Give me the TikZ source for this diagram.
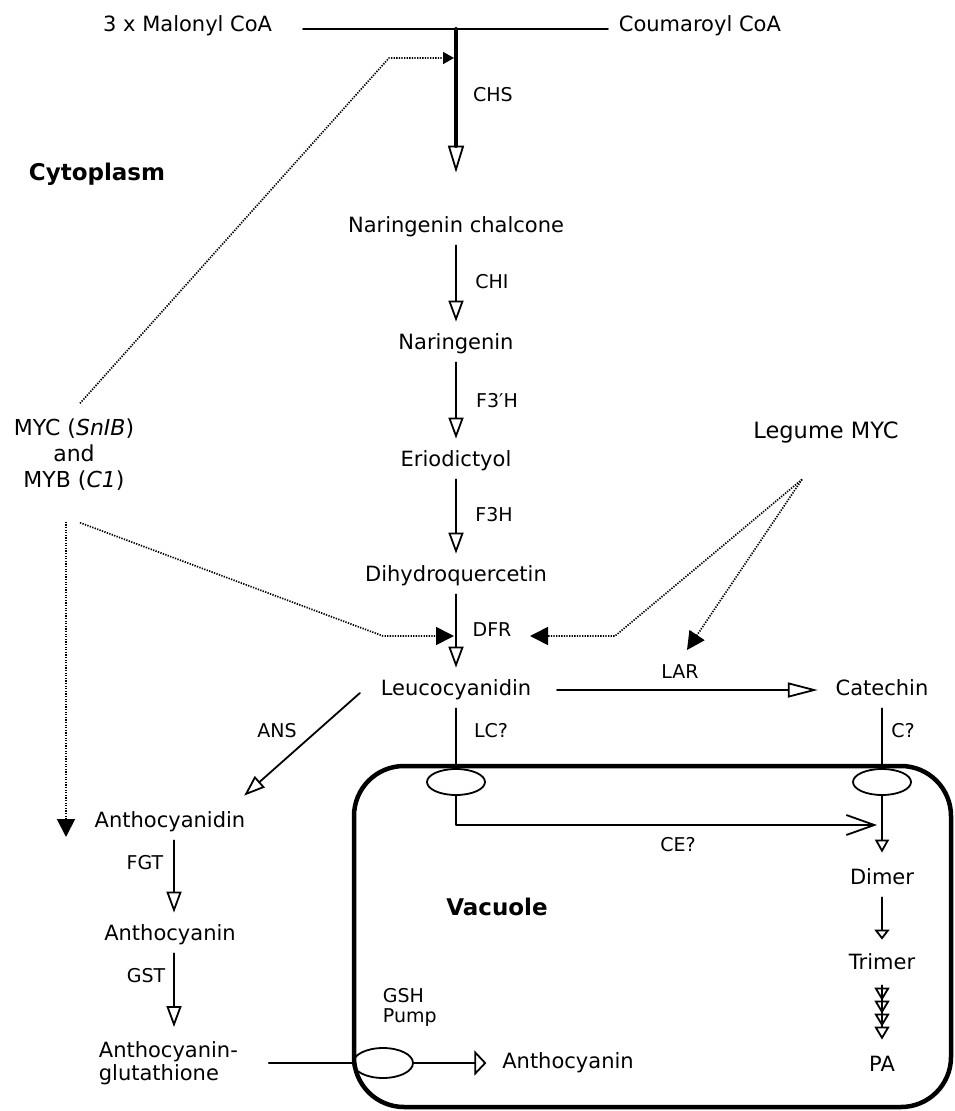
\documentclass[tikz,border=0pt]{standalone}
\usepackage{fontspec}
\setmainfont{DejaVu Sans}
\usetikzlibrary{arrows.meta,shapes.geometric,positioning}
\begin{document}
\begin{tikzpicture}[x=1pt,y=-1pt,line join=round,line cap=round,line width=1.8pt,>={Triangle[open,length=21pt,width=15pt]}]
	\tikzset{cpd/.style={font=\fontsize{21}{24}\selectfont,text height=16pt,text depth=5pt,inner xsep=3pt,inner ysep=7pt},
		cpdtwo/.style={inner sep=3pt},
		enz/.style={font=\fontsize{19}{20}\selectfont,inner sep=1pt},
		comp/.style={font=\bfseries\fontsize{23}{26}\selectfont,inner sep=0pt},
		rxn/.style={->,shorten >=4pt},
		regul/.style={line width=1.7pt,line cap=butt,dash pattern=on 1.3pt off 1.3pt,-{Triangle[length=18pt,width=18pt]}},
		pore/.style={draw,ellipse,minimum width=58pt,minimum height=26pt,inner sep=0pt}}
	\useasboundingbox (0,0) rectangle (954,1111);
	\node[cpd,anchor=east] (mal) at (276,26) {3 x Malonyl CoA};
	\node[cpd,anchor=west] (cou) at (615,26) {Coumaroyl CoA};
	\node[cpd] (nc) at (456,227) {Naringenin chalcone};
	\node[cpd] (nar) at (456,344) {Naringenin};
	\node[cpd] (eri) at (456,461) {Eriodictyol};
	\node[cpd] (dhq) at (456,576) {Dihydroquercetin};
	\node[cpd] (leu) at (456,690) {Leucocyanidin};
	\node[cpd] (cat) at (882,690) {Catechin};
	\node[cpd] (acd) at (170,822) {Anthocyanidin};
	\node[cpd] (ant) at (170,935) {Anthocyanin};
	\node[cpdtwo,font=\fontsize{21}{23}\selectfont,align=left,anchor=west] (ag) at (95,1063) {Anthocyanin-\\glutathione};
	\node[cpd] (anv) at (568,1063) {Anthocyanin};
	\node[cpd] (dim) at (882,879) {Dimer};
	\node[cpd] (tri) at (882,964) {Trimer};
	\node[cpd] (pa) at (882,1066) {PA};
	\node[cpdtwo,font=\fontsize{22}{26}\selectfont,align=center] (myc) at (74,455) {MYC (\textit{SnIB})\\and\\MYB (\textit{C1})};
	\node[cpd,font=\fontsize{22.5}{24}\selectfont] (leg) at (826,433) {Legume MYC};
	\node[comp,anchor=base east] (cyt) at (166,180) {Cytoplasm};
	\node[comp,anchor=base] (vac) at (497,915) {Vacuole};
	\node[enz] (chs) at (493,95) {CHS};
	\node[enz] (chi) at (492,282) {CHI};
	\node[enz] (f3ph) at (497,401) {F3′H};
	\node[enz] (f3h) at (494,515) {F3H};
	\node[enz] (dfr) at (492,630) {DFR};
	\node[enz] (lar) at (680,672) {LAR};
	\node[enz] (ans) at (277,731) {ANS};
	\node[enz] (lc) at (491,731) {LC?};
	\node[enz] (cq) at (903,731) {C?};
	\node[enz] (ce) at (678,845) {CE?};
	\node[enz] (fgt) at (145,863) {FGT};
	\node[enz] (gst) at (146,976) {GST};
	\node[enz,align=left,anchor=west] (gsh) at (381,1007) {GSH\\Pump};
	\draw[line width=4.5pt,rounded corners=50pt] (354,766) rectangle (951,1107);
	\node[pore] (lcp) at (456,782) {};
	\node[pore] (catp) at (882,782) {};
	\node[pore,minimum width=60pt,minimum height=30pt] (gsp) at (383,1063) {};
	\coordinate (jn) at (456,29);
	\coordinate (chsin) at (454,58);
	\coordinate (dfrl) at (454,636);
	\coordinate (dfrr) at (530,636);
	\coordinate (larin) at (687,650);
	\coordinate (acdin) at (66,837);
	\coordinate (agin) at (174,1027);
	\coordinate (ceend) at (877,825);
	\coordinate (mycup) at ([shift={(6pt,12pt)}]myc.north);
	\coordinate (mycdn) at ([shift={(6pt,-28pt)}]myc.south);
	\coordinate (mycdl) at ([shift={(-8pt,-27pt)}]myc.south);
	\coordinate (legst) at ([shift={(-24pt,-28pt)}]leg.south);
	\draw[shorten <=27pt,shorten >=7pt] ([yshift=-3pt]mal.east) -- ([yshift=-3pt]cou.west);
	\draw[line width=4pt,-{Triangle[open,length=27pt,width=16pt,line width'=1.8pt]},shorten >=36pt] (jn) -- (nc.north);
	\draw[rxn] (nc.south) -- (nar.north);
	\draw[rxn] (nar.south) -- (eri.north);
	\draw[rxn] (eri.south) -- (dhq.north);
	\draw[rxn] (dhq.south) -- (leu.north);
	\draw[-{Triangle[open,length=30pt,width=15pt]},shorten <=22pt,shorten >=14pt] (leu.east) -- (cat.west);
	\draw[->] ([shift={(-17pt,-3pt)}]leu.west) -- ([shift={(-5pt,8pt)}]acd.north east);
	\draw[rxn] ([xshift=4pt]acd.south) -- ([xshift=4pt]ant.north);
	\draw[->] ([xshift=4pt]ant.south) -- (agin);
	\draw[shorten <=27pt] (ag.east) -- (gsp.west);
	\draw[-{Triangle[open,length=12pt,width=25pt]},shorten >=12pt] (gsp.east) -- (anv.west);
	\draw (leu.south) -- (lcp.north);
	\draw (cat.south) -- (catp.north);
	\draw[-{Straight Barb[length=28pt,width=20pt]}] (lcp.south) |- (ceend);
	\draw[-{Triangle[open,length=13pt,width=14pt]},shorten >=8pt] (catp.south) -- (dim.north);
	\draw[-{Triangle[open,length=10pt,width=15pt]},shorten >=6pt] (dim.south) -- (tri.north);
	\draw[-{Triangle[open,length=13pt,width=15pt]Triangle[open,length=13pt,width=15pt]Triangle[open,length=13pt,width=15pt]Triangle[open,length=13pt,width=15pt]},shorten <=3pt,shorten >=8pt] (tri.south) -- (pa.north);
	\draw[regul,-{Triangle[length=11pt,width=12pt]}] (mycup) -- (389,58) -- (chsin);
	\draw[regul] (mycdn) -- (383,636) -- (dfrl);
	\draw[regul] (mycdl) -- (acdin);
	\draw[regul] (legst) -- (615,636) -- (dfrr);
	\draw[regul] (legst) -- (larin);
\end{tikzpicture}
\end{document}
